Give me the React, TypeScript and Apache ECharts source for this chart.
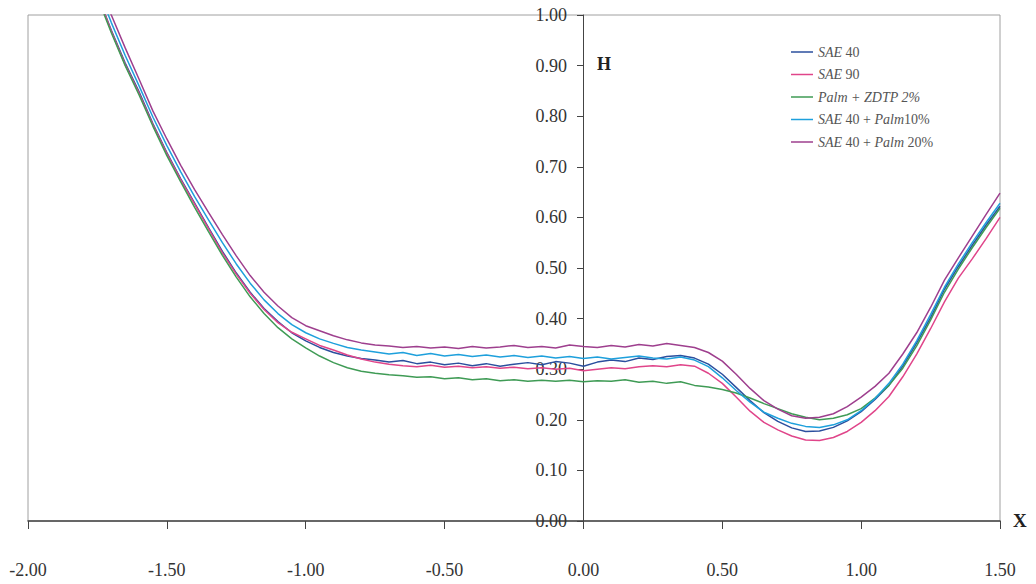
import React, { useEffect, useRef } from "react";
import * as echarts from "echarts";

const xValues = [
  -1.75, -1.7, -1.65, -1.6, -1.55, -1.5, -1.45, -1.4, -1.35, -1.3, -1.25, -1.2, -1.15, -1.1, -1.05, -1.0,
  -0.95, -0.9, -0.85, -0.8, -0.75, -0.7, -0.65, -0.6, -0.55, -0.5, -0.45, -0.4, -0.35, -0.3, -0.25, -0.2,
  -0.15, -0.1, -0.05, 0.0, 0.05, 0.1, 0.15, 0.2, 0.25, 0.3, 0.35, 0.4, 0.45, 0.5, 0.55, 0.6, 0.65, 0.7,
  0.75, 0.8, 0.85, 0.9, 0.95, 1.0, 1.05, 1.1, 1.15, 1.2, 1.25, 1.3, 1.35, 1.4, 1.45, 1.5,
];

const sae40 = [
  1.04, 0.97, 0.905, 0.848, 0.785, 0.728, 0.676, 0.628, 0.58, 0.533, 0.49, 0.452, 0.42, 0.394, 0.372, 0.356,
  0.343, 0.333, 0.326, 0.321, 0.318, 0.314, 0.317, 0.311, 0.314, 0.309, 0.312, 0.307, 0.311, 0.306, 0.31, 0.313,
  0.309, 0.315, 0.312, 0.306, 0.314, 0.318, 0.315, 0.322, 0.319, 0.325, 0.327, 0.322, 0.31, 0.29, 0.264, 0.238,
  0.214, 0.197, 0.184, 0.177, 0.178, 0.185, 0.198, 0.216, 0.24, 0.268, 0.306, 0.352, 0.402, 0.458, 0.503, 0.545,
  0.585, 0.622,
];

const sae90 = [
  1.04, 0.968, 0.902, 0.845, 0.783, 0.726, 0.674, 0.626, 0.578, 0.53, 0.488, 0.45, 0.418, 0.392, 0.373, 0.36,
  0.347, 0.338, 0.328, 0.32, 0.314, 0.31, 0.307, 0.305, 0.308, 0.304, 0.306, 0.303, 0.305, 0.302, 0.304, 0.301,
  0.303, 0.3, 0.302, 0.297, 0.3, 0.303, 0.301, 0.305, 0.307, 0.305, 0.309, 0.306, 0.292, 0.272, 0.245, 0.217,
  0.195, 0.18, 0.168, 0.16, 0.159, 0.165, 0.177, 0.195, 0.218, 0.246, 0.285, 0.33, 0.38, 0.433, 0.48, 0.518,
  0.558, 0.6,
];

const palmZdtp = [
  1.035, 0.965, 0.9, 0.842, 0.78, 0.722, 0.67, 0.62, 0.572, 0.525, 0.482, 0.443, 0.41, 0.382, 0.36, 0.342,
  0.326, 0.313, 0.303, 0.296, 0.292, 0.289, 0.287, 0.284, 0.285, 0.281, 0.283, 0.279, 0.281, 0.277, 0.279, 0.276,
  0.278, 0.276, 0.278, 0.275, 0.277, 0.276, 0.279, 0.274, 0.276, 0.272, 0.275, 0.268, 0.265, 0.26, 0.253, 0.243,
  0.232, 0.222, 0.212, 0.205, 0.2, 0.203, 0.21, 0.222, 0.243, 0.268, 0.302, 0.346, 0.397, 0.452, 0.498, 0.54,
  0.58, 0.618,
];

const sae40Palm10 = [
  1.055, 0.985, 0.92, 0.86, 0.798, 0.742, 0.69, 0.641, 0.595, 0.55, 0.508, 0.47, 0.437, 0.41, 0.388, 0.372,
  0.36, 0.351, 0.343, 0.338, 0.334, 0.33, 0.333, 0.327, 0.331, 0.326, 0.329, 0.325, 0.328, 0.324, 0.327, 0.323,
  0.326, 0.322, 0.325, 0.321, 0.324, 0.32, 0.323, 0.326, 0.322, 0.32, 0.324, 0.318, 0.305, 0.283, 0.258, 0.235,
  0.215, 0.203, 0.193, 0.187, 0.185, 0.19, 0.2, 0.218, 0.242, 0.272, 0.31, 0.356, 0.408, 0.462, 0.508, 0.55,
  0.59, 0.628,
];

const sae40Palm20 = [
  1.07, 1.0, 0.935, 0.873, 0.81, 0.755, 0.703, 0.655, 0.61, 0.566, 0.524, 0.485, 0.452, 0.425, 0.402, 0.386,
  0.376, 0.366, 0.358, 0.352, 0.348, 0.346, 0.343, 0.345, 0.342, 0.344, 0.341, 0.345, 0.342, 0.344, 0.347, 0.343,
  0.345, 0.342, 0.348, 0.345, 0.343, 0.347, 0.344, 0.349, 0.346, 0.351, 0.347, 0.343, 0.333, 0.316, 0.29, 0.262,
  0.238, 0.221, 0.208, 0.203, 0.205, 0.212, 0.226, 0.245, 0.266, 0.292, 0.33, 0.372, 0.422, 0.476, 0.52, 0.563,
  0.606, 0.648,
];

const seriesNames = ["SAE 40", "SAE 90", "Palm + ZDTP 2%", "SAE 40 + Palm 10%", "SAE 40 + Palm 20%"];
const seriesValues = [sae40, sae90, palmZdtp, sae40Palm10, sae40Palm20];
const seriesColors = ["#2b4f9e", "#e0458a", "#3f9b55", "#1ea0dc", "#9e3f8e"];
const legendLabels = [
  "{i|SAE} 40",
  "{i|SAE} 90",
  "{i|Palm + ZDTP 2%}",
  "{i|SAE} 40 + {i|Palm}10%",
  "{i|SAE} 40 + {i|Palm} 20%",
];

const SERIF = "'Liberation Serif', 'Times New Roman', serif";

export default function App() {
  const ref = useRef<HTMLDivElement>(null);
  useEffect(() => {
    if (!ref.current) return;
    const chart = echarts.init(ref.current, undefined, { renderer: "svg" });
    chart.setOption({
      animation: false,
      backgroundColor: "#ffffff",
      grid: {
        left: 28,
        top: 15,
        right: 36,
        bottom: 63,
        show: true,
        borderColor: "#a0a0a0",
        borderWidth: 1,
        containLabel: false,
        outerBoundsMode: "none",
      },
      legend: {
        orient: "vertical",
        left: 786,
        top: 40,
        icon: "rect",
        itemWidth: 22,
        itemHeight: 1.5,
        itemGap: 8.5,
        data: seriesNames,
        formatter: (name: string) => legendLabels[seriesNames.indexOf(name)],
        textStyle: {
          fontFamily: SERIF,
          fontSize: 14,
          color: "#555",
          lineHeight: 14,
          rich: {
            i: { fontFamily: SERIF, fontSize: 14, fontStyle: "italic", color: "#555" },
          },
        },
      },
      xAxis: {
        type: "value",
        min: -2,
        max: 1.5,
        interval: 0.5,
        axisLine: { show: true, onZero: true, lineStyle: { color: "#444", width: 1.5 } },
        axisTick: { show: true, inside: false, length: 8, lineStyle: { color: "#444" } },
        axisLabel: {
          margin: 40,
          fontFamily: SERIF,
          fontSize: 18,
          color: "#333",
          formatter: (v: number) => v.toFixed(2),
        },
        splitLine: { show: false },
      },
      yAxis: {
        type: "value",
        min: 0,
        max: 1,
        interval: 0.1,
        position: "left",
        offset: -555,
        axisLine: { show: true, onZero: false, lineStyle: { color: "#444", width: 1 } },
        axisTick: { show: true, inside: false, length: 6, lineStyle: { color: "#444" } },
        axisLabel: {
          margin: 16,
          fontFamily: SERIF,
          fontSize: 18,
          color: "#333",
          formatter: (v: number) => v.toFixed(2),
        },
        splitLine: { show: false },
      },
      graphic: [
        {
          type: "text",
          left: 597,
          top: 55,
          style: { text: "H", font: `bold 18px ${SERIF}`, fill: "#222" },
        },
        {
          type: "text",
          left: 1013,
          top: 511,
          style: { text: "X", font: `bold 19px ${SERIF}`, fill: "#222" },
        },
      ],
      series: seriesNames.map((name, k) => ({
        name,
        type: "line",
        data: xValues.map((x, i) => [x, seriesValues[k][i]]),
        showSymbol: false,
        symbol: "none",
        clip: true,
        smooth: false,
        lineStyle: { color: seriesColors[k], width: 1.5 },
        itemStyle: { color: seriesColors[k] },
      })),
    });
    return () => chart.dispose();
  }, []);
  return <div ref={ref} style={{ position: "fixed", left: 0, top: 0, width: 1036, height: 584 }} />;
}
